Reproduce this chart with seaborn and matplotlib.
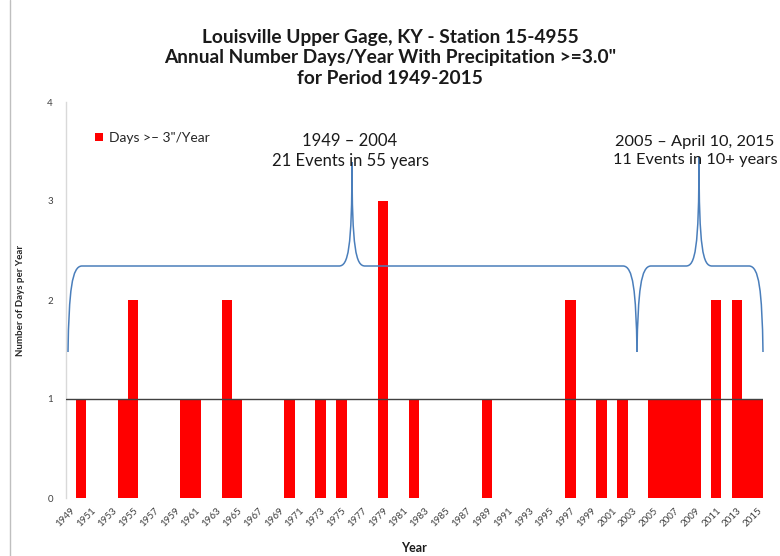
import matplotlib
matplotlib.use("Agg")
import matplotlib.pyplot as plt
from matplotlib.path import Path
from matplotlib.patches import PathPatch, Patch
from matplotlib.lines import Line2D
import seaborn as sns
import pandas as pd

# ---- data ----
years = list(range(1949, 2016))
days = [0, 1, 0, 0, 0, 1, 2, 0, 0, 0,   # 1949-1958
        0, 1, 1, 0, 0, 2, 1, 0, 0, 0,   # 1959-1968
        0, 1, 0, 0, 1, 0, 1, 0, 0, 0,   # 1969-1978
        3, 0, 0, 1, 0, 0, 0, 0, 0, 0,   # 1979-1988
        1, 0, 0, 0, 0, 0, 0, 0, 2, 0,   # 1989-1998
        0, 1, 0, 1, 0, 0, 1, 1, 1, 1,   # 1999-2008
        1, 0, 2, 0, 2, 1, 1]            # 2009-2015
tick_years = [str(y) for y in range(1949, 2016, 2)]
yticks = [0, 1, 2, 3, 4]
title_lines = ["Louisville Upper Gage, KY - Station 15-4955",
               "Annual Number Days/Year With Precipitation >=3.0\"",
               "for Period 1949-2015"]
period_labels = ["1949 \u2013 2004\n21 Events in 55 years",
                 "2005 \u2013 April 10, 2015\n11 Events in 10+ years"]
legend_label = "Days >\u2013 3\"/Year"

sns.set_theme(style="white")
plt.rcParams['font.family'] = ['Lato', 'DejaVu Sans']

W, H = 780, 556
fig = plt.figure(figsize=(W / 100, H / 100), dpi=100)
ax = fig.add_axes([65.5 / W, 1 - 498 / H, (763 - 65.5) / W, (498 - 102) / H])

df = pd.DataFrame({"Year": [str(y) for y in years], "Days": days})
sns.barplot(data=df, x="Year", y="Days", order=[str(y) for y in years],
            color="#ff0000", saturation=1, width=1.0, linewidth=0, ax=ax)

ax.set_xlim(-0.5, len(years) - 0.5)
ax.set_ylim(0, 4)
ax.set_yticks(yticks)
ax.set_yticklabels([str(v) for v in yticks], fontsize=7, color="#404040")
pos = [years.index(int(t)) for t in tick_years]
ax.set_xticks(pos)
ax.set_xticklabels(tick_years, rotation=45, ha="right", rotation_mode="anchor",
                   fontsize=7, color="#404040")
ax.tick_params(axis="x", length=0, pad=6)
ax.tick_params(axis="y", length=0, pad=9)

for s in ["top", "right", "bottom"]:
    ax.spines[s].set_visible(False)
ax.spines["left"].set_color("#d9d9d9")
ax.spines["left"].set_linewidth(1)

ax.axhline(1, color="#404040", lw=1, zorder=3)

ax.set_xlabel("")
ax.set_ylabel("Number of Days per Year", fontsize=7, fontweight="bold", labelpad=16)
fig.text(414 / W, 1 - 548 / H, "Year", ha="center", va="center",
         fontsize=9, fontweight="bold", color="#1a1a1a")

# title
fig.text(390 / W, 1 - 58 / H, "\n".join(title_lines), ha="center", va="center",
         fontsize=13.8, fontweight="bold", color="#1a1a1a", linespacing=1.22)

# legend
leg = ax.legend(handles=[Patch(facecolor="#ff0000", edgecolor="none", label=legend_label)],
                loc="upper left", bbox_to_anchor=((88 - 65.5) / (763 - 65.5), 1 - (125 - 102) / 396),
                frameon=False, fontsize=10, handlelength=0.6, handleheight=0.6,
                handletextpad=0.4, borderpad=0)

# period annotations
fig.text(350 / W, 1 - 151 / H, period_labels[0], ha="center", va="center",
         fontsize=12, color="#1a1a1a", linespacing=1.35)
fig.text(695 / W, 1 - 151 / H, period_labels[1], ha="center", va="center",
         fontsize=11.8, color="#1a1a1a", linespacing=1.35)


# curly braces in pixel coordinates
def P(x, y):
    return (x / W, 1 - y / H)


def brace(x0, xt, x1, ytop=266, ybot=352, ytip=158):
    verts = [P(x0, ybot),
             P(x0 + 1, 290), P(x0 + 4, ytop), P(x0 + 14, ytop),
             P(xt - 13, ytop),
             P(xt - 4, ytop), P(xt, 250), P(xt, ytip),
             P(xt, 250), P(xt + 4, ytop), P(xt + 13, ytop),
             P(x1 - 14, ytop),
             P(x1 - 4, ytop), P(x1 - 1, 290), P(x1, ybot)]
    codes = [Path.MOVETO,
             Path.CURVE4, Path.CURVE4, Path.CURVE4,
             Path.LINETO,
             Path.CURVE4, Path.CURVE4, Path.CURVE4,
             Path.CURVE4, Path.CURVE4, Path.CURVE4,
             Path.LINETO,
             Path.CURVE4, Path.CURVE4, Path.CURVE4]
    patch = PathPatch(Path(verts, codes), transform=fig.transFigure,
                      facecolor="none", edgecolor="#4a7ebb", lw=1.1)
    fig.add_artist(patch)


brace(68, 352, 637, ytip=162)
brace(637, 699, 763, ytip=157)

# outer frame line on the left
fig.add_artist(Line2D([10 / W, 10 / W], [0, 1], transform=fig.transFigure,
                      color="#bfbfbf", lw=1))

fig.savefig("out.png", dpi=100)
